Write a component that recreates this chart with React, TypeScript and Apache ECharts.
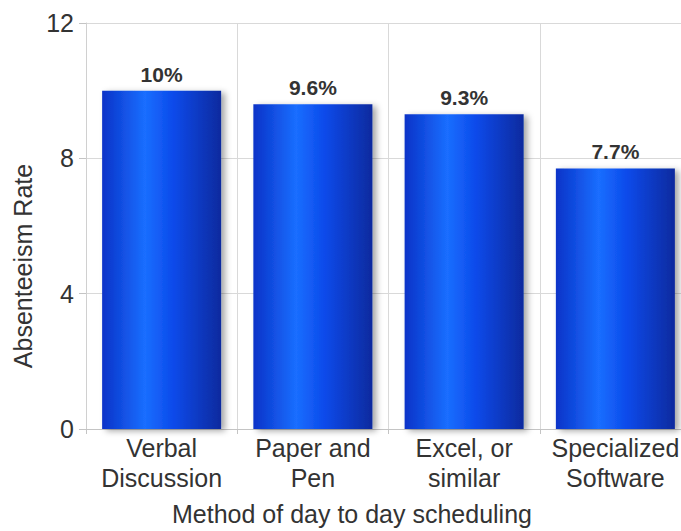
import React, { useEffect, useRef } from "react";
import * as echarts from "echarts";

const categories = [
  "Verbal\nDiscussion",
  "Paper and\nPen",
  "Excel, or\nsimilar",
  "Specialized\nSoftware",
];
const rates = [10, 9.6, 9.3, 7.7];
const yTicks = { min: 0, max: 12, interval: 4 };
const xTitle = "Method of day to day scheduling";
const yTitle = "Absenteeism Rate";

const FONT = "Liberation Sans, Arial, sans-serif";

export default function App() {
  const ref = useRef<HTMLDivElement>(null);

  useEffect(() => {
    // The plot runs slightly past the right edge of the window, so the
    // page itself must not scroll.
    document.body.style.margin = "0";
    document.body.style.overflow = "hidden";
    document.documentElement.style.overflow = "hidden";
    if (!ref.current) return;
    const chart = echarts.init(ref.current, undefined, { renderer: "svg" });

    const barFill = new echarts.graphic.LinearGradient(0, 0, 1, 0, [
      { offset: 0, color: "#0a33c8" },
      { offset: 0.36, color: "#1a6eff" },
      { offset: 0.6, color: "#0c4aea" },
      { offset: 1, color: "#0a2a9e" },
    ]);

    chart.setOption({
      animation: false,
      backgroundColor: "#ffffff",
      textStyle: { fontFamily: FONT },
      grid: { left: 86, right: 0, top: 23, bottom: 102, containLabel: false },
      xAxis: {
        type: "category",
        data: categories,
        axisLine: { show: true, lineStyle: { color: "#c4c4c4", width: 1 } },
        axisTick: { show: true, length: 5, lineStyle: { color: "#c4c4c4" } },
        splitLine: { show: true, lineStyle: { color: "#d9d9d9", width: 1 } },
        axisLabel: {
          color: "#333333",
          fontSize: 25,
          lineHeight: 30,
          margin: 4,
          fontFamily: FONT,
          interval: 0,
        },
      },
      yAxis: {
        type: "value",
        min: yTicks.min,
        max: yTicks.max,
        interval: yTicks.interval,
        axisLine: { show: true, lineStyle: { color: "#d0d0d0" } },
        axisTick: { show: true, length: 7, lineStyle: { color: "#c4c4c4" } },
        splitLine: { show: true, lineStyle: { color: "#d9d9d9", width: 1 } },
        axisLabel: {
          color: "#333333",
          fontSize: 25,
          margin: 12,
          fontFamily: FONT,
        },
      },
      graphic: [
        {
          type: "text",
          x: 23,
          y: 266,
          rotation: Math.PI / 2,
          style: {
            text: yTitle,
            fill: "#333333",
            font: `25px ${FONT}`,
            textAlign: "center",
            textVerticalAlign: "middle",
          },
        },
        {
          type: "text",
          x: 352,
          y: 514,
          style: {
            text: xTitle,
            fill: "#333333",
            font: `25px ${FONT}`,
            textAlign: "center",
            textVerticalAlign: "middle",
          },
        },
      ],
      series: [
        {
          type: "bar",
          data: rates,
          barWidth: 119,
          itemStyle: {
            color: barFill,
            shadowColor: "rgba(0,0,0,0.35)",
            shadowBlur: 6,
            shadowOffsetX: 4,
            shadowOffsetY: 2,
          },
          label: {
            show: true,
            position: "top",
            distance: 6,
            color: "#333333",
            fontSize: 21,
            fontWeight: "bold",
            fontFamily: FONT,
            formatter: (p: any) => `${p.value}%`,
          },
        },
      ],
    });

    return () => chart.dispose();
  }, []);

  return <div ref={ref} style={{ width: 691, height: 531 }} />;
}
